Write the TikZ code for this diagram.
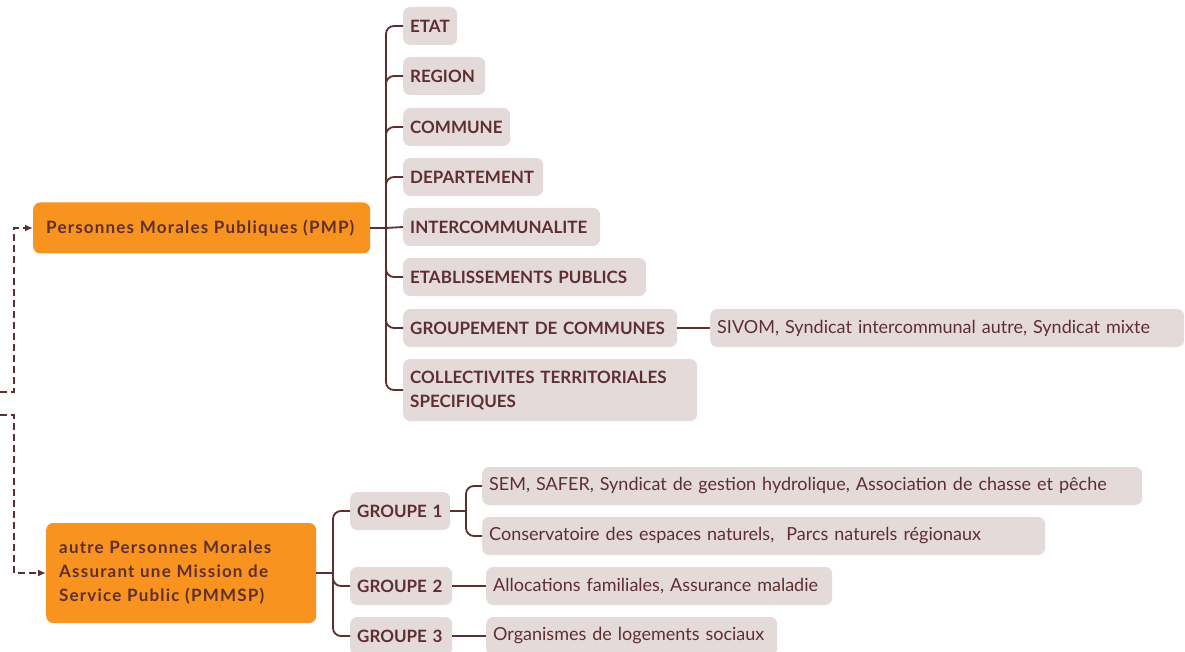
\documentclass[tikz,border=0pt]{standalone}
\usepackage{fontspec}
\setmainfont{Lato}
\usetikzlibrary{arrows.meta}

\definecolor{orangebox}{HTML}{F7931E}
\definecolor{greybox}{HTML}{E4DADA}
\definecolor{brownink}{HTML}{5E2F31}

\begin{document}
\begin{tikzpicture}[x=1pt, y=-1pt,
    main/.style={fill=orangebox, rounded corners=7pt, text=brownink, anchor=west,
      font=\fontsize{17}{24}\selectfont\bfseries\addfontfeature{LetterSpace=7},
      inner xsep=13pt, align=left},
    leaf/.style={fill=greybox, rounded corners=7pt, text=brownink, anchor=west,
      font=\fontsize{17}{24}\selectfont\bfseries, inner xsep=7pt,
      minimum height=38pt, align=left},
    info/.style={leaf, font=\fontsize{18}{24}\selectfont},
    link/.style={draw=brownink, line width=1.8pt, rounded corners=8pt},
    dashlink/.style={draw=brownink, line width=1.8pt, dash pattern=on 7pt off 4pt,
      -{Latex[length=8pt,width=7pt]}}]

     \useasboundingbox (0,0) rectangle (1185,652);

     % the two families
     \node (pmp) at (33, 228) [main, minimum height=51pt, text width=311pt]
          {Personnes Morales Publiques (PMP)};
     \node (pmmsp) at (46, 573) [main, minimum height=100pt, text width=244pt]
          {autre Personnes Morales\\Assurant une Mission de\\Service Public (PMMSP)};

     % PMP branch
     \node (etat) at (403, 26) [leaf, text width=40pt] {ETAT};
     \node (region) at (403, 76) [leaf, text width=68pt] {REGION};
     \node (commune) at (403, 127) [leaf, text width=93pt] {COMMUNE};
     \node (dept) at (403, 177) [leaf, text width=126pt] {DEPARTEMENT};
     \node (interco) at (403, 227) [leaf, text width=183pt] {INTERCOMMUNALITE};
     \node (etabpub) at (403, 277) [leaf, text width=229pt] {ETABLISSEMENTS PUBLICS};
     \node (grpcom) at (403, 328) [leaf, text width=260pt] {GROUPEMENT DE COMMUNES};
     \node (collter) at (403, 390) [leaf, text width=280pt, minimum height=62pt]
          {COLLECTIVITES TERRITORIALES\\SPECIFIQUES};
     \node (sivom) at (710, 328) [info, text width=460pt]
          {SIVOM, Syndicat intercommunal autre, Syndicat mixte};

     % PMMSP branch
     \node (g1) at (350, 511) [leaf, text width=86pt] {GROUPE 1};
     \node (g2) at (350, 586) [leaf, text width=88pt] {GROUPE 2};
     \node (g3) at (350, 636) [leaf, text width=88pt] {GROUPE 3};
     \node (sem) at (482, 486) [info, text width=646pt]
          {SEM, SAFER, Syndicat de gestion hydrolique, Association de chasse et pêche};
     \node (conserv) at (482, 536) [info, text width=549pt]
          {Conservatoire des espaces naturels,\ \ Parcs naturels régionaux};
     \node (alloc) at (486, 586) [info, text width=332pt] {Allocations familiales, Assurance maladie};
     \node (organ) at (486, 636) [info, text width=277pt] {Organismes de logements sociaux};

     \coordinate (pmpfork) at (386, 228);
     \coordinate (pmmspfork) at (333, 573);
     \coordinate (g1fork) at (466, 511);
     \coordinate (inA) at (0, 392);
     \coordinate (inB) at (0, 415);

     % dashed entries on the left
     \draw [dashlink] (inA) -- ++(14, 0) |- (pmp.west);
     \draw [dashlink] (inB) -- ++(14, 0) |- (pmmsp.west);

     \draw [link] (pmp.east) -- (pmpfork);
     \draw [link] (pmpfork) |- (etat.west);
     \draw [link] (pmpfork) |- (region.west);
     \draw [link] (pmpfork) |- (commune.west);
     \draw [link] (pmpfork) |- (dept.west);
     \draw [link] (pmpfork) -- (interco.west);
     \draw [link] (pmpfork) |- (etabpub.west);
     \draw [link] (pmpfork) |- (grpcom.west);
     \draw [link] (pmpfork) |- (collter.west);
     \draw [link] (grpcom.east) -- (sivom.west);

     \draw [link] (pmmsp.east) -- (pmmspfork);
     \draw [link] (pmmspfork) |- (g1.west);
     \draw [link] (pmmspfork) |- (g2.west);
     \draw [link] (pmmspfork) |- (g3.west);

     \draw [link] (g1.east) -- (g1fork);
     \draw [link] (g1fork) |- (sem.west);
     \draw [link] (g1fork) |- (conserv.west);
     \draw [link] (g2.east) -- (alloc.west);
     \draw [link] (g3.east) -- (organ.west);

 \end{tikzpicture}
\end{document}
